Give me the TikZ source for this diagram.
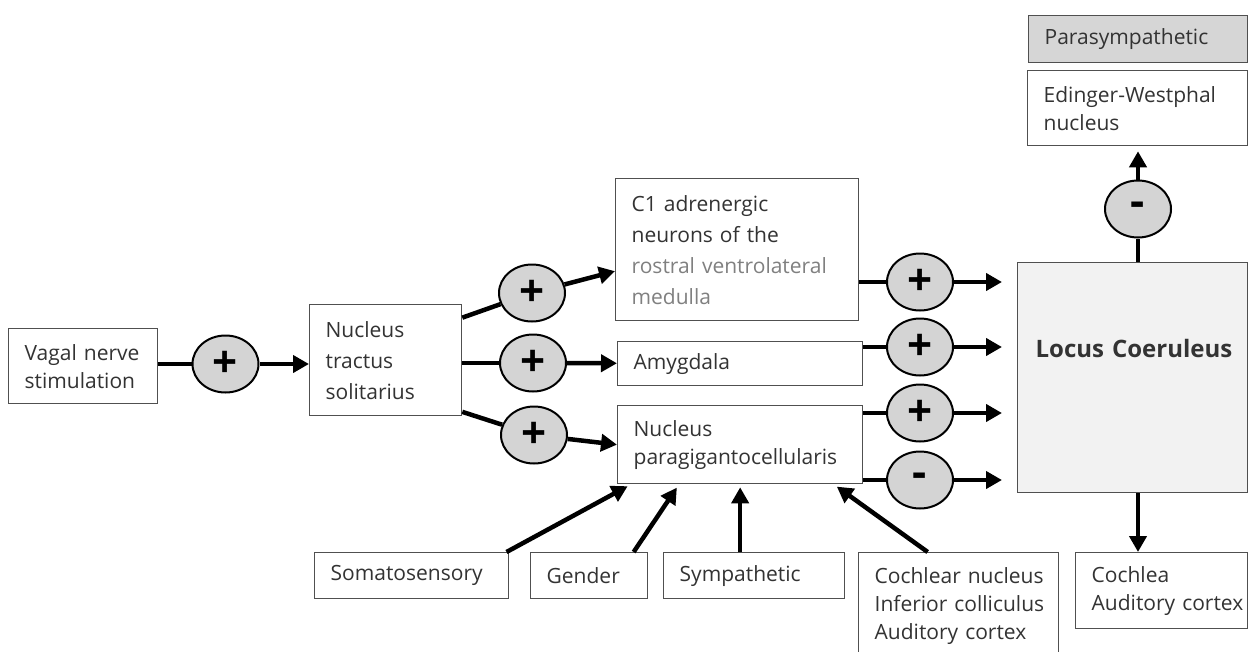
\documentclass[tikz,border=0pt]{standalone}
\usepackage{fontspec}
\setmainfont{Open Sans}
\usepackage{tikz}
\usetikzlibrary{shapes.geometric, arrows.meta, positioning}

\definecolor{gategray}{HTML}{D4D4D4}
\definecolor{lcgray}{HTML}{F2F2F2}
\definecolor{paragray}{HTML}{D6D6D6}
\definecolor{boxline}{HTML}{505050}
\definecolor{txt}{HTML}{333333}
\definecolor{dimtxt}{HTML}{808080}

\begin{document}
\begin{tikzpicture}[x=1pt, y=-1pt,
    nbox/.style={rectangle, draw=boxline, line width=1.3pt, fill=white, anchor=north west,
        inner sep=0pt, align=left, text=txt, font=\fontsize{21}{28}\selectfont,
        execute at begin node={\leftskip=16pt\rightskip=-14pt plus 1fil\hyphenpenalty=10000}},
    loose/.style={font=\fontsize{21}{31}\selectfont},
    gate/.style={ellipse, draw, line width=2pt, fill=gategray, minimum width=66pt,
        minimum height=57pt, inner sep=0pt, font=\fontsize{44}{44}\bfseries},
    link/.style={line width=4.5pt},
    flow/.style={line width=4.5pt, -{Triangle[length=16pt, width=17pt]}}]
    % Page frame
    \useasboundingbox (0,0) rectangle (1248,651);
    \clip (0,0) rectangle (1248,651);
    \fill[white] (0,0) rectangle (1248,651);

    % Input and relay boxes
    \node[nbox, text width=149pt, minimum height=75pt] (vagal) at (8,328) {Vagal nerve\\stimulation};
    \node[nbox, loose, text width=152pt, minimum height=111pt] (nts) at (309,304) {Nucleus\\tractus\\solitarius};
    \node[nbox, loose, text width=243pt, minimum height=142pt] (c1) at (615,178)
        {C1 adrenergic\\neurons of the\\\textcolor{dimtxt}{rostral ventrolateral}\\\textcolor{dimtxt}{medulla}};
    \node[nbox, text width=245pt, minimum height=44pt] (amyg) at (617,341) {Amygdala};
    \node[nbox, text width=245pt, minimum height=78pt] (npg) at (617,405) {Nucleus\\paragigantocellularis};

    % Locus coeruleus and its targets
    \node[nbox, fill=lcgray, text width=230pt, text height=95pt, text depth=135pt,
        font=\fontsize{24}{30}\bfseries, execute at begin node={\leftskip=18pt}] (lc) at (1017,262) {Locus Coeruleus};
    \node[nbox, fill=paragray, text width=219pt, minimum height=47pt] (para) at (1028,15) {Parasympathetic};
    \node[nbox, text width=220pt, minimum height=75pt] (ewn) at (1027,70) {Edinger-Westphal\\nucleus};
    \node[nbox, text width=172pt, minimum height=76pt] (coch) at (1075,552) {Cochlea\\Auditory cortex};

    % Modulating inputs
    \node[nbox, text width=194pt, minimum height=46pt] (soma) at (314,552) {Somatosensory};
    \node[nbox, text width=117pt, minimum height=46pt] (gender) at (530,552) {Gender};
    \node[nbox, text width=181pt, minimum height=46pt] (symp) at (663,552) {Sympathetic};
    \node[nbox, text width=200pt, minimum height=106pt] (cochn) at (858,552)
        {Cochlear nucleus\\Inferior colliculus\\Auditory cortex};

    % Excitatory / inhibitory gates
    \node[gate] (pv) at (225.5,364) {+};
    \node[gate] (pc) at (532,293) {+};
    \node[gate] (pa) at (533,363) {+};
    \node[gate] (pn) at (534,435) {+};
    \node[gate] (q1) at (920,282) {+};
    \node[gate] (q2) at (920,347) {+};
    \node[gate] (q3) at (920,413) {+};
    \node[gate] (q4) at (920,480) {-};
    \node[gate] (qt) at (1138,209) {-};

    % Vagal input
    \draw[link] (vagal.east |- pv) -- (pv);
    \draw[flow] (pv) -- (nts.west |- pv);

    % NTS outputs
    \draw[link] (nts.29) -- (pc);
    \draw[flow] (pc) -- (c1.190);
    \draw[link] (nts.east |- pa) -- (pa);
    \draw[flow] (pa) -- (amyg);
    \draw[link] (nts.-34) -- (pn);
    \draw[flow] (pn) -- (npg.west);

    % Into the locus coeruleus
    \foreach \s/\g in {c1/q1, amyg/q2, npg/q3, npg/q4} {
        \draw[link] (\s.east |- \g) -- (\g);
        \draw[flow, shorten >=15pt] (\g) -- (lc.west |- \g);
    }

    % Locus coeruleus outputs
    \draw[link] (lc.north -| qt) -- (qt);
    \draw[flow, shorten >=5pt] (qt) -- (ewn.south -| qt);
    \draw[flow] (lc.south -| qt) -- (coch.north -| qt);

    % Modulators of the paragigantocellularis
    \draw[flow, shorten >=4pt] (soma.14) -- (npg.200);
    \draw[flow, shorten >=4pt] (gender.28) -- (npg.213);
    \draw[flow, shorten >=3pt] (symp.north -| npg.south) -- (npg.south);
    \draw[flow, shorten >=4pt] (cochn.120) -- (npg.-23);
\end{tikzpicture}
\end{document}
